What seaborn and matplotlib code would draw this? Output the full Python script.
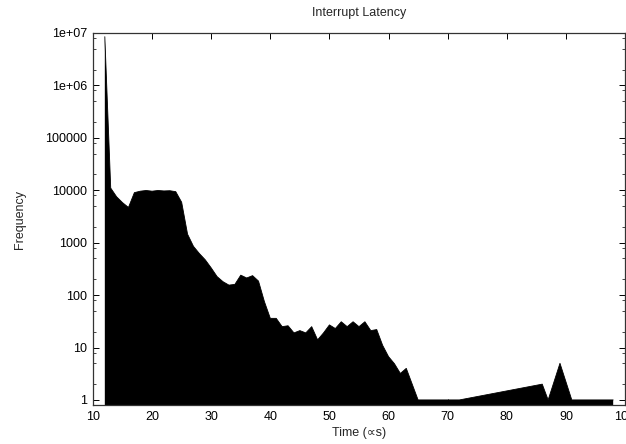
import matplotlib
matplotlib.use("Agg")
import matplotlib.pyplot as plt
import matplotlib.ticker as mticker
import seaborn as sns
import pandas as pd

# ---- data ----
latency_us = [12, 13, 14, 15, 16, 17, 18, 19, 20, 21, 22, 23, 24, 25, 26, 27, 28, 29, 30,
              31, 32, 33, 34, 35, 36, 37, 38, 39, 40, 41, 42, 43, 44, 45, 46, 47, 48, 49,
              50, 51, 52, 53, 54, 55, 56, 57, 58, 59, 60, 61, 62, 63, 64, 65, 72, 86, 87,
              89, 91, 98]
frequency = [8.5e6, 11000, 7500, 5800, 4700, 9000, 9600, 9900, 9600, 9900, 9700, 9800, 9400,
             5900, 1450, 850, 620, 470, 330, 225, 180, 155, 160, 240, 212, 235, 185, 75, 36,
             36, 25, 26, 19, 21, 19, 25, 14, 19, 27, 23, 31, 25, 31, 25, 31, 21, 22, 11, 6.7,
             4.9, 3.2, 4.0, 2.0, 1, 1, 2, 1, 5, 1, 1]
xtick_values = [10, 20, 30, 40, 50, 60, 70, 80, 90, 100]
ytick_values = [1, 10, 100, 1000, 10000, 100000, 1e6, 1e7]
ytick_labels = ["1", "10", "100", "1000", "10000", "100000", "1e+06", "1e+07"]

title_text = "Interrupt Latency"
xlabel_text = "Time (\u221ds)"
ylabel_text = "Frequency"

df = pd.DataFrame({"latency": latency_us, "frequency": frequency})

sns.set_theme(style="ticks")
plt.rcParams["font.family"] = ["Liberation Sans", "DejaVu Sans"]
plt.rcParams["font.size"] = 9

fig = plt.figure(figsize=(6.26, 4.44), dpi=100)
ax = fig.add_axes([93 / 626, 39 / 444, (625 - 93) / 626, (405 - 33) / 444])

ax.set_yscale("log")
ax.fill_between(df["latency"], df["frequency"], 1e-3, color="black", linewidth=0)
sns.lineplot(data=df, x="latency", y="frequency", ax=ax, color="black",
             linewidth=0.6, estimator=None, sort=False)

ax.set_xlim(10, 100)
ax.set_ylim(0.8, 1e7)

ax.xaxis.set_major_locator(mticker.FixedLocator(xtick_values))
ax.yaxis.set_major_locator(mticker.FixedLocator(ytick_values))
ax.yaxis.set_major_formatter(mticker.FixedFormatter(ytick_labels))
ax.yaxis.set_minor_locator(mticker.LogLocator(base=10, subs=(2.0, 5.0, 8.0), numticks=20))
ax.yaxis.set_minor_formatter(mticker.NullFormatter())
ax.xaxis.set_minor_locator(mticker.NullLocator())

ax.tick_params(axis="both", which="major", direction="in", length=4, width=0.7,
               top=True, right=True, labelsize=9, colors="black", pad=4)
ax.tick_params(axis="y", which="minor", direction="in", length=2, width=0.6,
               left=True, right=True)

for s in ax.spines.values():
    s.set_color("#333333")
    s.set_linewidth(0.9)
    s.set_visible(True)

ax.set_title(title_text, fontsize=9, pad=12)
ax.set_xlabel(xlabel_text, fontsize=9, labelpad=3)
ax.set_ylabel(ylabel_text, fontsize=9, labelpad=14)

fig.savefig("out.png", dpi=100)
